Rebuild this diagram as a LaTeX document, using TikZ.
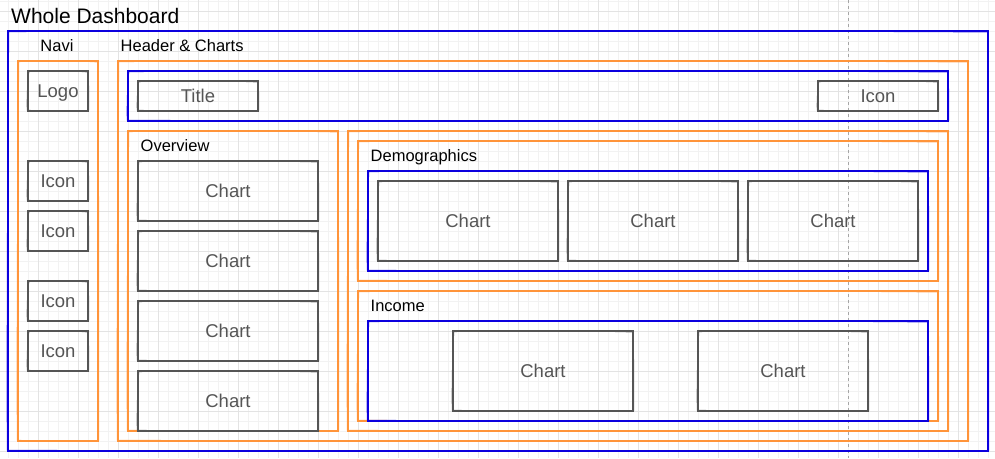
\documentclass[tikz,border=0pt]{standalone}
\usepackage{fontspec}
\setmainfont{Liberation Sans}
\usetikzlibrary{calc}
\definecolor{dblue}{RGB}{12,0,222}
\definecolor{dorange}{RGB}{255,148,58}
\definecolor{dgray}{RGB}{85,85,85}
\newcommand\sketchit[2]{%
  \path (#1.north west) coordinate (skA) (#1.north east) coordinate (skB)
        (#1.south east) coordinate (skC) (#1.south west) coordinate (skD);
  \draw[#2, line width=0.8pt, opacity=0.8]
    ([shift={(0.8,0.7)}]skA) .. controls ($(skA)!0.33!(skB)+(0,-1.2)$) and ($(skA)!0.66!(skB)+(0,-0.5)$) .. ([shift={(-0.6,1)}]skB)
    .. controls ($(skB)!0.33!(skC)+(1.2,0)$) and ($(skB)!0.66!(skC)+(0.8,0)$) .. ([shift={(0.6,-0.6)}]skC)
    .. controls ($(skC)!0.33!(skD)+(0,1.3)$) and ($(skC)!0.66!(skD)+(0,0.5)$) .. ([shift={(-0.8,-0.8)}]skD)
    .. controls ($(skD)!0.33!(skA)+(-1.1,0)$) and ($(skD)!0.66!(skA)+(-0.6,0)$) .. ([shift={(0.8,0.7)}]skA);
}
\tikzset{
  minorgrid/.style={draw=black!5, line width=0.7pt},
  majorgrid/.style={draw=black!11, line width=0.7pt},
  wh/.style 2 args={minimum width=#1pt, minimum height=#2pt},
  boxbase/.style={line width=1.5pt, inner sep=0pt, outer sep=0pt},
  bluebox/.style={boxbase, draw=dblue},
  orangebox/.style={boxbase, draw=dorange},
  graybox/.style={boxbase, draw=dgray, text=dgray, text depth=0pt,
    font=\fontsize{18.5}{20}\selectfont},
  lbl/.style={font=\fontsize{16.5}{18}\selectfont, inner sep=0pt, anchor=base west},
  guide/.style={draw=black!35, line width=0.7pt, dash pattern=on 3pt off 3pt},
}
\begin{document}
\begin{tikzpicture}[x=1pt,y=-1pt]
\useasboundingbox (0,0) rectangle (995,458);
\fill[white] (0,0) rectangle (995,458);
% grid
\foreach \x in {-2,8,...,998} {\draw[minorgrid] (\x,0) -- (\x,458);}
\foreach \y in {1.5,11.5,...,461.5} {\draw[minorgrid] (0,\y) -- (995,\y);}
\foreach \x in {38,78,...,998} {\draw[majorgrid] (\x,0) -- (\x,458);}
\foreach \y in {11.5,51.5,...,451.5} {\draw[majorgrid] (0,\y) -- (995,\y);}
% dashed guide
\coordinate (gtop) at (848,0);
\coordinate (gbot) at (848,458);
\draw[guide] (gtop) -- (gbot);

% whole dashboard
\node[font=\fontsize{21}{24}\selectfont, inner sep=0pt, anchor=base west] (tWhole) at (11,23) {Whole Dashboard};
\node[bluebox, wh={980}{420}] (whole) at (498,241) {};
\sketchit{whole}{dblue}

% navi
\node[font=\fontsize{16.5}{18}\selectfont, inner sep=0pt, anchor=base] (tNavi) at (57,51.7) {Navi};
\node[orangebox, wh={80}{380}] (navi) at (58,251) {};
\sketchit{navi}{dorange}
\node[graybox, wh={60}{40}] (logo) at (58,91) {Logo};
\node[graybox, wh={60}{40}] (ni1) at (58,181) {Icon};
\node[graybox, wh={60}{40}] (ni2) at (58,231) {Icon};
\node[graybox, wh={60}{40}] (ni3) at (58,301) {Icon};
\node[graybox, wh={60}{40}] (ni4) at (58,351) {Icon};
\foreach \n in {logo,ni1,ni2,ni3,ni4} {\sketchit{\n}{dgray}}

% header & charts
\node[lbl] (tHC) at (120.5,51.7) {Header \& Charts};
\node[orangebox, wh={850}{380}] (hc) at (543,251) {};
\sketchit{hc}{dorange}
\node[bluebox, wh={820}{50}] (header) at (538,96) {};
\sketchit{header}{dblue}
\node[graybox, wh={120}{30}] (title) at (198,96) {Title};
\node[graybox, wh={120}{30}] (hicon) at (878,96) {Icon};
\sketchit{title}{dgray}
\sketchit{hicon}{dgray}

% overview
\node[orangebox, wh={210}{300}] (ov) at (233,281) {};
\sketchit{ov}{dorange}
\node[lbl] (tOv) at (140.5,151.7) {Overview};
\node[graybox, wh={180}{60}] (oc1) at (228,191) {Chart};
\node[graybox, wh={180}{60}] (oc2) at (228,261) {Chart};
\node[graybox, wh={180}{60}] (oc3) at (228,331) {Chart};
\node[graybox, wh={180}{60}] (oc4) at (228,401) {Chart};
\foreach \n in {oc1,oc2,oc3,oc4} {\sketchit{\n}{dgray}}

% right column
\node[orangebox, wh={600}{300}] (rc) at (648,281) {};
\sketchit{rc}{dorange}

% demographics
\node[orangebox, wh={580}{140}] (demo) at (648,211) {};
\sketchit{demo}{dorange}
\node[lbl] (tDemo) at (370.5,161.7) {Demographics};
\node[bluebox, wh={560}{100}] (demob) at (648,221) {};
\sketchit{demob}{dblue}
\node[graybox, wh={180}{80}] (dc1) at (468,221) {Chart};
\node[graybox, wh={170}{80}] (dc2) at (653,221) {Chart};
\node[graybox, wh={170}{80}] (dc3) at (833,221) {Chart};
\foreach \n in {dc1,dc2,dc3} {\sketchit{\n}{dgray}}

% income
\node[orangebox, wh={580}{130}] (inc) at (648,356) {};
\sketchit{inc}{dorange}
\node[lbl] (tInc) at (370.5,311.7) {Income};
\node[bluebox, wh={560}{100}] (incb) at (648,371) {};
\sketchit{incb}{dblue}
\node[graybox, wh={180}{80}] (ic1) at (543,371) {Chart};
\node[graybox, wh={170}{80}] (ic2) at (783,371) {Chart};
\foreach \n in {ic1,ic2} {\sketchit{\n}{dgray}}
\end{tikzpicture}
\end{document}
